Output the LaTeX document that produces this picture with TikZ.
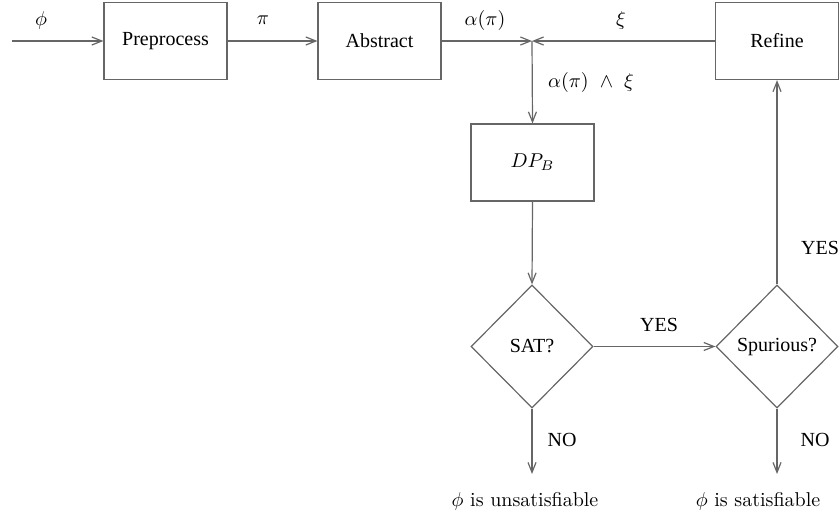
\documentclass[tikz,border=0pt]{standalone}
\usepackage{fontspec}
\newfontfamily\tms{Liberation Serif}
\usetikzlibrary{arrows.meta,shapes.geometric}
\begin{document}
\begin{tikzpicture}[x=0.5pt,y=-0.5pt,
  line/.style={draw=black!60, line width=0.6pt},
  arr/.style={line, -{Straight Barb[length=5pt,width=4pt]}},
  box/.style={line, rectangle, minimum width=61.5pt, minimum height=38.5pt, inner sep=0pt, font=\tms},
  dia/.style={line, diamond, minimum width=61pt, minimum height=61.5pt, inner sep=0pt, font=\tms},
  lbl/.style={inner sep=0pt, font=\tms}]
\useasboundingbox (0,0) rectangle (839,515);
\node[box] (pre) at (165.5,41) {Preprocess};
\node[box] (abs) at (379.5,41) {Abstract};
\node[box] (ref) at (777,41) {Refine};
\node[box] (dp) at (532.5,162.5) {$DP_B$};
\node[dia] (sat) at (532,346.5) {SAT?};
\node[dia] (spu) at (777,346.5) {Spurious?};
\coordinate (in) at (12,41);
\coordinate (j) at (532,41);
\coordinate (unsat) at (532,474);
\coordinate (satf) at (777,474);
\node[inner sep=0pt] (tu) at (525,501) {$\phi$ is unsatisfiable};
\node[inner sep=0pt] (ts) at (758,501) {$\phi$ is satisfiable};
\draw[arr] (in) -- (pre.west);
\draw[arr] (pre.east) -- (abs.west);
\draw[arr] (abs.east) -- (j);
\draw[arr] (ref.west) -- (j);
\draw[arr] (j) -- (dp.north);
\draw[arr] (dp.south) -- (sat.north);
\draw[arr] (sat.east) -- (spu.west);
\draw[arr] (spu.north) -- (ref.south);
\draw[arr] (sat.south) -- (unsat);
\draw[arr] (spu.south) -- (satf);
\node[inner sep=0pt] (lphi) at (41,20) {$\phi$};
\node[inner sep=0pt] (lpi) at (263,20) {$\pi$};
\node[inner sep=0pt] (lal) at (485,20) {$\alpha(\pi)$};
\node[inner sep=0pt] (lxi) at (621,20) {$\xi$};
\node[inner sep=0pt] (land) at (591,82) {$\alpha(\pi)\ \wedge\ \xi$};
\node[lbl] (ly1) at (659,325) {YES};
\node[lbl] (ly2) at (820,248) {YES};
\node[lbl] (ln1) at (562,440) {NO};
\node[lbl] (ln2) at (815,440) {NO};
\end{tikzpicture}
\end{document}
